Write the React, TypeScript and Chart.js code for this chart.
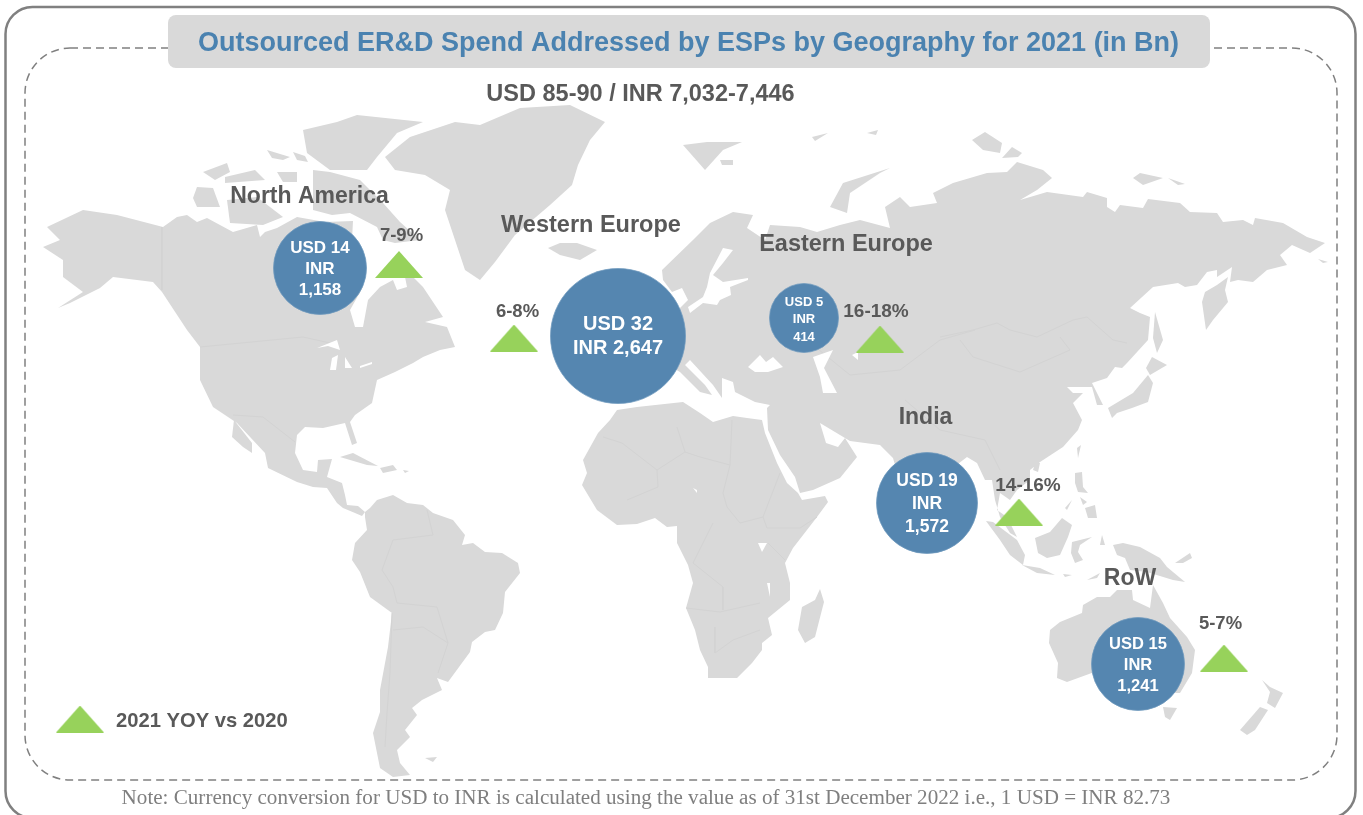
import React, { useEffect, useRef } from "react";
import { Chart, registerables } from "chart.js";

Chart.register(...registerables);

type P = [number, number];

const TITLE = "Outsourced ER&D Spend Addressed by ESPs by Geography for 2021 (in Bn)";
const SUBTITLE = "USD 85-90 / INR 7,032-7,446";
const LEGEND_LABEL = "2021 YOY vs 2020";
const NOTE = "Note: Currency conversion for USD to INR is calculated using the value as of 31st December 2022 i.e., 1 USD = INR 82.73";

const regions = ["North America", "Western Europe", "Eastern Europe", "India", "RoW"];
const usdBn = [14, 32, 5, 19, 15];
const inrBn = ["1,158", "2,647", "414", "1,572", "1,241"];
const growth = ["7-9%", "6-8%", "16-18%", "14-16%", "5-7%"];

const bubbleX = [320, 618, 804, 927, 1138];
const bubbleY = [268, 336, 318, 503, 664];
const bubbleR = [46.5, 67.5, 34.5, 50.5, 46.5];
const triX = [399, 514, 880, 1019, 1224, 80];
const triY = [264.5, 338, 339, 512, 658, 719];

const northAmerica: P[] = [[47,227],[83,210],[117,215],[163,227],[177,217],[187,215],[197,222],[207,218],[233,232],[257,225],[260,237],[265,232],[277,228],[297,217],[325,222],[353,221],[352,240],[363,287],[350,310],[355,327],[363,327],[368,300],[380,287],[393,280],[397,290],[407,287],[403,267],[423,287],[443,317],[425,322],[447,327],[455,347],[440,350],[423,357],[413,363],[395,372],[377,380],[372,403],[355,415],[350,422],[357,443],[352,445],[345,423],[323,428],[305,427],[297,435],[295,453],[303,470],[317,472],[318,460],[332,459],[327,477],[342,483],[345,495],[347,505],[358,506],[365,512],[362,516],[355,513],[343,508],[337,503],[327,488],[313,487],[297,482],[268,468],[265,453],[237,423],[213,407],[200,380],[200,347],[187,330],[162,292],[153,282],[113,277],[100,288],[70,303],[58,308],[83,292],[63,277],[63,260],[43,247],[60,240]];
const baffin: P[] = [[313,170],[330,172],[360,180],[383,203],[400,222],[420,240],[395,243],[383,240],[377,227],[350,213],[332,215],[313,210]];
const ellesmere: P[] = [[303,130],[337,122],[357,115],[423,122],[397,133],[377,157],[367,170],[330,170],[307,153]];
const banks: P[] = [[197,187],[213,188],[220,207],[197,207],[193,198]];
const victoriaIsland: P[] = [[227,200],[257,197],[283,217],[263,225],[230,223]];
const arcticA: P[] = [[203,172],[227,163],[230,172],[215,180]];
const arcticB: P[] = [[277,172],[297,172],[297,182],[283,182]];
const arcticC: P[] = [[225,177],[255,170],[265,180],[225,183]];
const arcticD: P[] = [[267,150],[290,157],[283,160],[272,158]];
const arcticE: P[] = [[293,152],[305,156],[308,162],[297,160]];
const greenland: P[] = [[385,157],[410,137],[455,122],[480,125],[520,108],[570,105],[605,122],[590,140],[578,165],[572,185],[550,205],[515,235],[495,262],[480,280],[465,270],[455,240],[445,210],[450,190],[425,175],[395,170]];
const iceland: P[] = [[548,248],[560,243],[577,243],[597,250],[580,260],[560,255]];
const svalbard: P[] = [[683,145],[707,142],[742,142],[723,150],[705,170]];
const svalbardB: P[] = [[720,160],[733,160],[733,165],[722,165]];
const franzA: P[] = [[812,137],[828,133],[815,141]];
const franzB: P[] = [[867,133],[878,130],[876,135]];
const novayaZemlya: P[] = [[830,207],[843,183],[890,168],[880,173],[850,193],[847,213]];
const eurasia: P[] = [[662,270],[693,240],[710,223],[733,212],[753,215],[747,228],[765,240],[770,225],[800,227],[817,232],[840,225],[860,220],[890,228],[885,207],[900,197],[910,207],[937,203],[933,193],[953,183],[987,173],[1007,172],[1017,162],[1043,170],[1052,178],[1037,190],[1020,200],[1047,192],[1083,197],[1087,192],[1107,198],[1107,207],[1115,212],[1120,205],[1143,208],[1148,199],[1180,203],[1190,212],[1217,213],[1223,222],[1243,220],[1253,225],[1255,218],[1283,223],[1307,237],[1325,243],[1310,253],[1292,245],[1280,255],[1287,265],[1267,270],[1253,282],[1238,280],[1230,282],[1232,267],[1217,277],[1217,270],[1207,272],[1197,285],[1185,287],[1178,283],[1153,287],[1130,308],[1140,313],[1150,317],[1148,340],[1127,363],[1122,368],[1115,367],[1107,378],[1092,383],[1103,405],[1097,405],[1092,387],[1080,387],[1067,387],[1073,393],[1083,393],[1073,403],[1082,420],[1078,430],[1063,447],[1040,462],[1030,470],[1030,480],[1017,490],[1010,500],[1000,493],[997,510],[1007,517],[1017,537],[1010,533],[1000,517],[995,500],[992,480],[985,480],[977,463],[967,457],[950,470],[925,540],[905,500],[893,458],[880,445],[850,441],[820,423],[826,443],[838,447],[845,438],[857,457],[840,478],[813,490],[800,493],[795,477],[780,455],[768,430],[767,408],[770,405],[755,402],[735,392],[733,382],[722,378],[722,398],[713,385],[690,360],[685,365],[705,385],[712,395],[700,392],[680,372],[668,365],[640,375],[620,385],[600,350],[640,310],[680,308],[688,300],[682,288],[672,292],[663,280]];
const africa: P[] = [[610,420],[598,433],[583,460],[587,473],[582,485],[597,510],[617,525],[637,524],[655,518],[667,527],[677,526],[677,543],[688,565],[693,583],[686,608],[695,630],[700,650],[708,667],[708,678],[737,678],[752,663],[762,650],[762,643],[772,635],[768,618],[790,600],[790,583],[785,563],[793,548],[817,517],[828,502],[825,496],[802,500],[798,493],[787,483],[777,463],[765,433],[762,420],[747,418],[733,416],[713,422],[700,413],[683,402],[637,407],[617,410]];
const madagascar: P[] = [[820,589],[824,602],[815,637],[805,643],[798,630],[802,607],[815,600]];
const southAmerica: P[] = [[365,512],[370,508],[377,500],[393,495],[407,503],[423,505],[433,513],[453,520],[465,535],[462,545],[473,543],[485,552],[502,553],[518,563],[520,573],[505,592],[503,613],[495,630],[485,632],[472,642],[470,652],[448,682],[437,678],[442,690],[422,700],[412,708],[417,715],[405,730],[410,737],[397,750],[400,763],[410,775],[393,777],[380,768],[373,733],[380,712],[380,690],[388,647],[392,613],[370,597],[360,572],[352,560],[355,543],[367,530],[365,517]];
const cuba: P[] = [[340,457],[353,453],[378,466],[367,465]];
const hispaniola: P[] = [[380,468],[393,465],[397,470],[383,473]];
const puertoRico: P[] = [[403,470],[409,471],[405,473]];
const baja: P[] = [[234,420],[252,443],[252,453],[243,447],[232,437]];
const falkland: P[] = [[425,758],[437,757],[433,762]];
const japan: P[] = [[1108,408],[1133,393],[1148,375],[1153,383],[1148,402],[1132,408],[1117,413],[1112,418]];
const hokkaido: P[] = [[1152,357],[1167,365],[1150,375],[1146,368]];
const sakhalin: P[] = [[1155,312],[1163,340],[1157,353],[1153,338]];
const kamchatka: P[] = [[1228,277],[1225,290],[1228,302],[1213,320],[1206,330],[1202,302],[1205,292],[1217,285]];
const severnayaA: P[] = [[972,140],[985,132],[1002,143],[1000,153],[983,150]];
const severnayaB: P[] = [[1002,158],[1012,147],[1022,153],[1018,157]];
const newSiberianA: P[] = [[1133,178],[1140,173],[1163,178],[1143,185]];
const newSiberianB: P[] = [[1168,178],[1185,184],[1178,185]];
const wrangel: P[] = [[1318,259],[1328,262],[1323,263]];
const taiwan: P[] = [[1077,448],[1081,445],[1078,458]];
const hainan: P[] = [[1035,463],[1040,463],[1038,472],[1033,470]];
const luzon: P[] = [[1075,473],[1082,472],[1083,487],[1088,493],[1078,492],[1075,483]];
const mindanao: P[] = [[1085,508],[1095,505],[1097,518],[1088,518]];
const visayas: P[] = [[1080,497],[1087,502],[1083,505]];
const palawan: P[] = [[1065,508],[1072,500],[1067,510]];
const borneo: P[] = [[1035,538],[1050,532],[1062,518],[1072,525],[1068,537],[1060,555],[1047,558],[1038,553]];
const sulawesi: P[] = [[1072,542],[1092,537],[1080,545],[1078,552],[1083,560],[1075,563],[1071,553]];
const sumatra: P[] = [[986,521],[993,522],[1017,540],[1025,555],[1023,565],[1010,555],[1000,540]];
const java: P[] = [[1022,565],[1040,568],[1055,575],[1037,573]];
const flores: P[] = [[1063,574],[1072,575],[1065,577]];
const timor: P[] = [[1087,580],[1100,573],[1097,578]];
const halmahera: P[] = [[1102,535],[1105,545],[1100,545]];
const newGuinea: P[] = [[1113,545],[1123,543],[1140,547],[1160,558],[1167,567],[1185,582],[1173,580],[1147,572],[1130,570],[1125,558],[1117,555]];
const newBritain: P[] = [[1175,563],[1190,553],[1192,558],[1183,563]];
const australia: P[] = [[1050,630],[1060,622],[1082,613],[1083,605],[1097,597],[1110,597],[1117,590],[1132,590],[1133,600],[1150,608],[1153,585],[1163,603],[1170,618],[1187,637],[1195,650],[1192,673],[1180,693],[1163,693],[1140,680],[1100,670],[1067,682],[1057,678],[1058,663],[1049,643]];
const tasmania: P[] = [[1163,707],[1177,708],[1170,720],[1165,717]];
const nzNorth: P[] = [[1262,680],[1270,687],[1283,693],[1275,708],[1267,703],[1270,692]];
const nzSouth: P[] = [[1260,707],[1268,710],[1255,730],[1247,735],[1240,730]];

const baltic: P[] = [[723,248],[733,250],[723,263],[713,275],[723,282],[748,278],[748,280],[730,287],[731,295],[720,300],[717,305],[703,303],[690,313],[688,307],[703,297],[707,287],[710,273]];
const blackSea: P[] = [[748,367],[760,355],[766,362],[773,357],[783,367],[768,372],[755,372]];
const caspian: P[] = [[813,357],[833,350],[824,368],[837,393],[823,393],[820,377]];
const aral: P[] = [[852,355],[858,352],[858,360]];
const lakeVictoria: P[] = [[758,543],[767,543],[762,552]];
const lakeMalawi: P[] = [[767,583],[770,583],[770,597]];
const lakeChad: P[] = [[693,488],[697,490],[697,493]];
const lakeSuperior: P[] = [[317,348],[337,340],[340,350],[328,346]];
const lakeMichigan: P[] = [[330,370],[332,358],[338,355],[336,370]];
const lakeHuron: P[] = [[345,357],[352,368],[345,368]];
const lakeErie: P[] = [[360,366],[372,362],[372,364],[360,368]];

const mongoliaNorth: P[] = [[940,337],[973,330],[997,323],[1010,330],[1037,337],[1073,320],[1087,317],[1113,340],[1127,343]];
const mongoliaSouth: P[] = [[960,340],[973,357],[1020,372],[1070,350],[1060,337]];
const kazakhstan: P[] = [[813,345],[850,375],[900,370],[940,340],[975,330]];
const himalaya: P[] = [[905,400],[940,430],[985,440],[1000,470]];
const saharaWest: P[] = [[603,437],[622,443],[657,470],[685,452],[677,427]];
const saharaEast: P[] = [[685,452],[700,457],[730,465],[732,420]];
const sudan: P[] = [[730,465],[723,493],[727,507],[740,523],[763,517],[780,473]];
const sahel: P[] = [[657,470],[658,487],[627,500]];
const southernBelt: P[] = [[686,608],[720,612],[760,603]];
const congo: P[] = [[713,523],[693,563],[723,587],[723,610]];
const southAfrica: P[] = [[715,627],[715,653],[733,640],[760,630]];
const eastAfrica: P[] = [[768,543],[785,560]];
const ethiopia: P[] = [[763,517],[767,528],[800,528],[817,517]];
const brazilNorth: P[] = [[427,510],[433,535],[393,540],[382,570],[393,587],[397,603],[437,607],[448,643],[438,673]];
const chile: P[] = [[392,613],[390,673],[387,713],[385,747]];
const bolivia: P[] = [[393,630],[423,627],[448,643]];
const usMexico: P[] = [[233,415],[263,417],[295,442]];
const usCanada: P[] = [[200,347],[303,337],[330,343]];
const alaskaBorder: P[] = [[162,227],[162,290]];

const landMasses: P[][] = [northAmerica, baffin, ellesmere, banks, victoriaIsland, arcticA, arcticB, arcticC, arcticD, arcticE, greenland, iceland, svalbard, svalbardB, franzA, franzB, novayaZemlya, eurasia, africa, madagascar, southAmerica, cuba, hispaniola, puertoRico, baja, falkland, japan, hokkaido, sakhalin, kamchatka, severnayaA, severnayaB, newSiberianA, newSiberianB, wrangel, taiwan, hainan, luzon, mindanao, visayas, palawan, borneo, sulawesi, sumatra, java, flores, timor, halmahera, newGuinea, newBritain, australia, tasmania, nzNorth, nzSouth];
const waterBodies: P[][] = [baltic, blackSea, caspian, aral, lakeVictoria, lakeMalawi, lakeChad, lakeSuperior, lakeMichigan, lakeHuron, lakeErie];
const borders: P[][] = [mongoliaNorth, mongoliaSouth, kazakhstan, himalaya, saharaWest, saharaEast, sudan, sahel, southernBelt, congo, southAfrica, eastAfrica, ethiopia, brazilNorth, chile, bolivia, usMexico, usCanada, alaskaBorder];

const MAP = "#d9d9d9";
const BORDER = "#d3d3d3";
const BLUE = "#5586b0";
const GREEN = "#97d25b";
const DARK = "#595959";
const SANS = '"Liberation Sans", Arial, sans-serif';
const TEXT_NUDGE = 1.5;

type T = { s: string; x: number; y: number; size: number; color?: string; align?: CanvasTextAlign; family?: string; bold?: boolean };

const bubbleFont = [17, 20, 13, 17.5, 16.5];
const bubbleLines = [
  [`USD ${usdBn[0]}`, "INR", inrBn[0]],
  [`USD ${usdBn[1]}`, `INR ${inrBn[1]}`],
  [`USD ${usdBn[2]}`, "INR", inrBn[2]],
  [`USD ${usdBn[3]}`, "INR", inrBn[3]],
  [`USD ${usdBn[4]}`, "INR", inrBn[4]],
];
const bubbleLineY = [[247, 268, 289], [323, 347], [301, 318, 336], [480, 503, 526], [643, 664, 685]];

const texts: T[] = [
  { s: TITLE, x: 688.5, y: 42, size: 27, color: "#4a82b0" },
  { s: SUBTITLE, x: 640.5, y: 93, size: 23.5 },
  { s: regions[0], x: 309.5, y: 195, size: 23 },
  { s: regions[1], x: 591, y: 224, size: 23.5 },
  { s: regions[2], x: 846, y: 243, size: 23.5 },
  { s: regions[3], x: 925.5, y: 416, size: 23 },
  { s: regions[4], x: 1130, y: 577, size: 23 },
  { s: growth[0], x: 401.5, y: 234, size: 18.5 },
  { s: growth[1], x: 517.5, y: 310, size: 18.5 },
  { s: growth[2], x: 876, y: 310, size: 19 },
  { s: growth[3], x: 1028, y: 484, size: 19 },
  { s: growth[4], x: 1220.5, y: 622, size: 18.5 },
  { s: LEGEND_LABEL, x: 116, y: 720, size: 20.2, align: "left" },
  { s: NOTE, x: 646, y: 797, size: 21.1, color: "#7f7f7f", family: '"Liberation Serif", "Times New Roman", serif', bold: false },
];

function triangleSprite(): HTMLCanvasElement {
  const c = document.createElement("canvas");
  c.width = 48;
  c.height = 27;
  const g = c.getContext("2d")!;
  g.fillStyle = GREEN;
  g.beginPath();
  g.moveTo(24, 0);
  g.lineTo(48, 27);
  g.lineTo(0, 27);
  g.closePath();
  g.fill();
  return c;
}

function roundedPath(g: CanvasRenderingContext2D, x: number, y: number, w: number, h: number, r: number) {
  g.beginPath();
  g.roundRect(x, y, w, h, r);
}

const framePlugin = {
  id: "frame",
  beforeDatasetsDraw(chart: any) {
    const g: CanvasRenderingContext2D = chart.ctx;
    const { x: sx, y: sy } = chart.scales;
    const px = (v: number) => sx.getPixelForValue(v);
    const py = (v: number) => sy.getPixelForValue(v);
    g.save();
    g.fillStyle = "#ffffff";
    g.fillRect(0, 0, chart.width, chart.height);
    g.strokeStyle = "#808080";
    g.lineWidth = 2.5;
    roundedPath(g, px(5.5), py(7), px(1355.5) - px(5.5), py(818) - py(7), 27);
    g.stroke();
    g.strokeStyle = "#808080";
    g.lineWidth = 1.5;
    g.setLineDash([8, 5]);
    roundedPath(g, px(25), py(48), px(1337) - px(25), py(780) - py(48), 45);
    g.stroke();
    g.setLineDash([]);
    g.fillStyle = MAP;
    roundedPath(g, px(168), py(15), px(1210) - px(168), py(68) - py(15), 8);
    g.fill();
    g.restore();
  },
};

const polygonPlugin = {
  id: "polygonFill",
  beforeDatasetDraw(chart: any, args: any) {
    const ds = chart.data.datasets[args.index];
    if (!ds.polygonFill) return;
    const pts = args.meta.data;
    const g: CanvasRenderingContext2D = chart.ctx;
    g.save();
    g.fillStyle = ds.polygonFill;
    g.beginPath();
    pts.forEach((p: any, i: number) => (i ? g.lineTo(p.x, p.y) : g.moveTo(p.x, p.y)));
    g.closePath();
    g.fill();
    g.restore();
  },
};

const textPlugin = {
  id: "textLayer",
  afterDatasetsDraw(chart: any) {
    const g: CanvasRenderingContext2D = chart.ctx;
    const { x: sx, y: sy } = chart.scales;
    g.save();
    g.textBaseline = "middle";
    for (const t of texts) {
      g.font = `${t.bold === false ? "" : "bold "}${t.size}px ${t.family || SANS}`;
      g.fillStyle = t.color || DARK;
      g.textAlign = t.align || "center";
      g.fillText(t.s, sx.getPixelForValue(t.x), sy.getPixelForValue(t.y + TEXT_NUDGE));
    }
    g.fillStyle = "#ffffff";
    g.textAlign = "center";
    bubbleLines.forEach((lines, i) => {
      g.font = `bold ${bubbleFont[i]}px ${SANS}`;
      lines.forEach((s, j) => g.fillText(s, sx.getPixelForValue(bubbleX[i]), sy.getPixelForValue(bubbleLineY[i][j] + TEXT_NUDGE)));
    });
    g.restore();
  },
};

export default function App() {
  const ref = useRef<HTMLCanvasElement>(null);
  useEffect(() => {
    const sprite = triangleSprite();
    const polyDs = (poly: P[], fill: string, order: number) => ({
      type: "scatter",
      data: poly.map(([x, y]) => ({ x, y })),
      showLine: false,
      pointRadius: 0,
      polygonFill: fill,
      order,
      clip: false,
    });
    const borderDs = (line: P[]) => ({
      type: "scatter",
      data: line.map(([x, y]) => ({ x, y })),
      showLine: true,
      pointRadius: 0,
      borderColor: BORDER,
      borderWidth: 1,
      fill: false,
      order: 7,
      clip: false,
    });
    const chart = new Chart(ref.current!, {
      type: "bubble",
      plugins: [framePlugin, polygonPlugin, textPlugin],
      data: {
        datasets: [
          {
            type: "bubble",
            label: "Spend (USD Bn)",
            data: usdBn.map((_, i) => ({ x: bubbleX[i], y: bubbleY[i], r: bubbleR[i] })),
            backgroundColor: BLUE,
            borderColor: "#6f99bd",
            borderWidth: 0.75,
            order: 0,
            clip: false,
          },
          {
            type: "scatter",
            label: "2021 YOY vs 2020",
            data: triX.map((x, i) => ({ x, y: triY[i] })),
            pointStyle: sprite,
            order: 1,
            clip: false,
          },
          ...waterBodies.map((p) => polyDs(p, "#ffffff", 5)),
          ...borders.map((l) => borderDs(l)),
          ...landMasses.map((p) => polyDs(p, MAP, 10)),
        ] as any,
      },
      options: {
        responsive: false,
        animation: false,
        events: [],
        layout: { padding: 0, autoPadding: false },
        plugins: { legend: { display: false }, tooltip: { enabled: false }, title: { display: false } },
        scales: {
          x: { type: "linear", min: 0, max: 1363, display: false },
          y: { type: "linear", min: 0, max: 815, reverse: true, display: false },
        },
      },
    });
    return () => chart.destroy();
  }, []);
  return (
    <div style={{ position: "fixed", left: 0, top: 0, width: 1363, height: 815, background: "#fff", overflow: "hidden" }}>
      <canvas ref={ref} width={1363} height={815} style={{ display: "block" }} />
    </div>
  );
}
